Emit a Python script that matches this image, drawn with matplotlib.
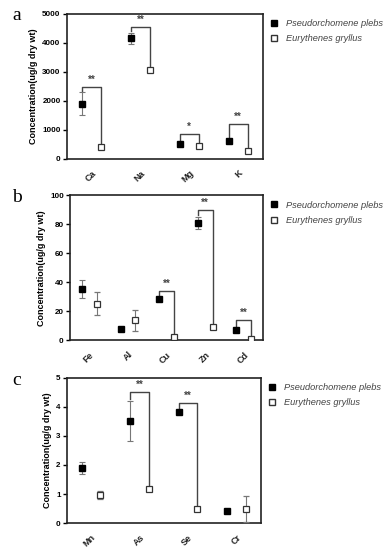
import numpy as np
import matplotlib
matplotlib.use('Agg')
import matplotlib.pyplot as plt
from matplotlib.lines import Line2D

plt.rcParams['font.family'] = ['Liberation Sans', 'DejaVu Sans']

# Datos
species = ['Pseudorchomene plebs', 'Eurythenes gryllus']

el_a = ['Ca', 'Na', 'Mg', 'K']
pp_a = [1900, 4150, 520, 620]
pp_a_err = [390, 180, 60, 50]
eg_a = [410, 3080, 440, 260]
eg_a_err = [40, 60, 70, 70]
stars_a = ['**', '**', '*', '**']
brk_a = [2480, 4550, 860, 1200]

el_b = ['Fe', 'Al', 'Cu', 'Zn', 'Cd']
pp_b = [35.5, 8.2, 28.3, 81, 7.4]
pp_b_err = [6, 0.5, 1.0, 4, 0.8]
eg_b = [25.2, 13.8, 2.2, 9.0, 1.0]
eg_b_err = [8, 7, 1.0, 1.0, 0.8]
stars_b = ['', '', '**', '**', '**']
brk_b = [0, 0, 33.8, 89.6, 13.8]

el_c = ['Mn', 'As', 'Se', 'Cr']
pp_c = [1.9, 3.52, 3.83, 0.42]
pp_c_err = [0.2, 0.7, 0.08, 0.03]
eg_c = [0.97, 1.18, 0.5, 0.49]
eg_c_err = [0.15, 0.04, 0.04, 0.45]
stars_c = ['', '**', '**', '']
brk_c = [0, 4.5, 4.15, 0]

panels = [
    ('a', el_a, pp_a, pp_a_err, eg_a, eg_a_err, stars_a, brk_a, 5000, 1000, [0.171, 0.711, 0.501, 0.264]),
    ('b', el_b, pp_b, pp_b_err, eg_b, eg_b_err, stars_b, brk_b, 100, 20, [0.179, 0.381, 0.494, 0.264]),
    ('c', el_c, pp_c, pp_c_err, eg_c, eg_c_err, stars_c, brk_c, 5, 1, [0.171, 0.049, 0.496, 0.264]),
]

fig = plt.figure(figsize=(3.91, 5.50), dpi=100)

for lab, els, pp, ppe, eg, ege, stars, brk, ymax, ystep, pos in panels:
    ax = fig.add_axes(pos)
    x = np.arange(len(els))
    off = 0.19
    ax.errorbar(x - off, pp, yerr=ppe, fmt='s', ms=4.5, color='black', mfc='black', mec='black',
                ecolor='#777777', elinewidth=0.8, capsize=2.5, capthick=0.8, zorder=3)
    ax.errorbar(x + off, eg, yerr=ege, fmt='s', ms=4.8, mfc='white', mec='#333333', mew=0.9,
                ecolor='#777777', elinewidth=0.8, capsize=2.2, capthick=0.8, zorder=3)

    # corchetes de significancia
    gap = 0.025 * ymax
    for i, s in enumerate(stars):
        if not s:
            continue
        y1 = pp[i] + ppe[i] + gap * 0.5
        y2 = eg[i] + 0.02 * ymax
        ax.plot([i - off, i - off, i + off, i + off], [y1, brk[i], brk[i], y2],
                color='#444444', lw=1, zorder=2)
        ax.text(i, brk[i] + 0.015 * ymax, s, ha='center', va='bottom', fontsize=7,
                fontweight='bold', color='#444444')

    ax.set_xlim(-0.5, len(els) - 0.5)
    ax.set_ylim(0, ymax)
    ax.set_yticks(np.arange(0, ymax + ystep / 2, ystep))
    ax.set_xticks(x)
    ax.set_xticklabels(els, rotation=45, ha='right', rotation_mode='anchor',
                       fontsize=6.5, fontweight='bold', color='#222222')
    ax.tick_params(axis='x', length=0, pad=7)
    ax.tick_params(axis='y', length=3, width=1, labelsize=5.8, pad=1.5)
    for t in ax.get_yticklabels():
        t.set_fontweight('bold')
    for sp in ax.spines.values():
        sp.set_linewidth(1.2)
        sp.set_color('#222222')
    ax.set_ylabel('Concentration(ug/g dry wt)', fontsize=6.5, fontweight='bold', labelpad=3)

    handles = [
        Line2D([], [], marker='s', ls='none', ms=4.5, color='black', mfc='black'),
        Line2D([], [], marker='s', ls='none', ms=5, mfc='white', mec='#333333', mew=1),
    ]
    leg = ax.legend(handles, species, loc='upper left', bbox_to_anchor=(0.99, 1.02),
                    frameon=False, handlelength=1.0, handletextpad=0.8, labelspacing=0.65,
                    prop={'size': 6.7, 'style': 'italic'})
    for t in leg.get_texts():
        t.set_color('#444444')

    fig.text(12 / 391, pos[1] + pos[3] - 0.004, lab, family='Liberation Serif', fontsize=14,
             ha='left', va='center')

fig.savefig('out.png', dpi=100)
